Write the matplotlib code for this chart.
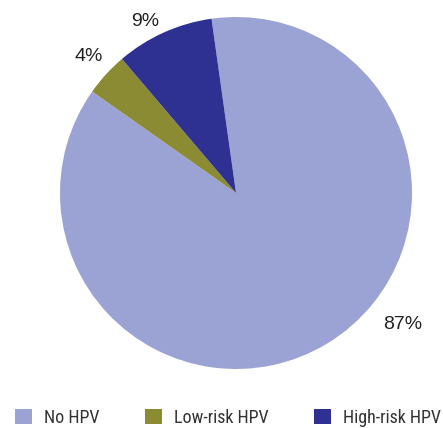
import numpy as np
import matplotlib.pyplot as plt
from matplotlib.patches import Patch

# data
categories = ['No HPV', 'Low-risk HPV', 'High-risk HPV']
shares = [87, 4, 9]
colors = ['#9ba3d4', '#8b8b33', '#2e3192']

# label placement (angle offset in deg, radius) per slice
label_offset = [20.3, -0.5, 3.7]
label_radius = [1.21, 1.14, 1.103]

plt.rcParams['font.family'] = ['Liberation Sans', 'DejaVu Sans']

fig = plt.figure(figsize=(4.43, 4.28), dpi=100)
ax = fig.add_axes([60/443, 59/428, 352/443, 352/428])

wedges, _ = ax.pie(shares, colors=colors, startangle=98, counterclock=False,
                   radius=1, wedgeprops=dict(linewidth=0))
ax.set_xlim(-1, 1)
ax.set_ylim(-1, 1)
ax.set_aspect('equal')
ax.axis('off')

for w, v, off, r in zip(wedges, shares, label_offset, label_radius):
    mid = np.deg2rad((w.theta1 + w.theta2) / 2 + off)
    ax.text(r * np.cos(mid), r * np.sin(mid), f'{v}%', ha='center', va='center',
            fontsize=14, color='#222222', clip_on=False)

handles = [Patch(facecolor=c, edgecolor='none') for c in colors]
leg = fig.legend(handles, categories, loc='center left', bbox_to_anchor=(15/443, 0.024),
                 ncol=3, frameon=False, borderpad=0, borderaxespad=0,
                 handlelength=0.94, handleheight=0.94,
                 handletextpad=0.67, columnspacing=2.52,
                 prop={'family': ['Roboto Condensed', 'DejaVu Sans'], 'size': 13})
for t in leg.get_texts():
    t.set_color('#333333')

fig.savefig('out.png', dpi=100)
